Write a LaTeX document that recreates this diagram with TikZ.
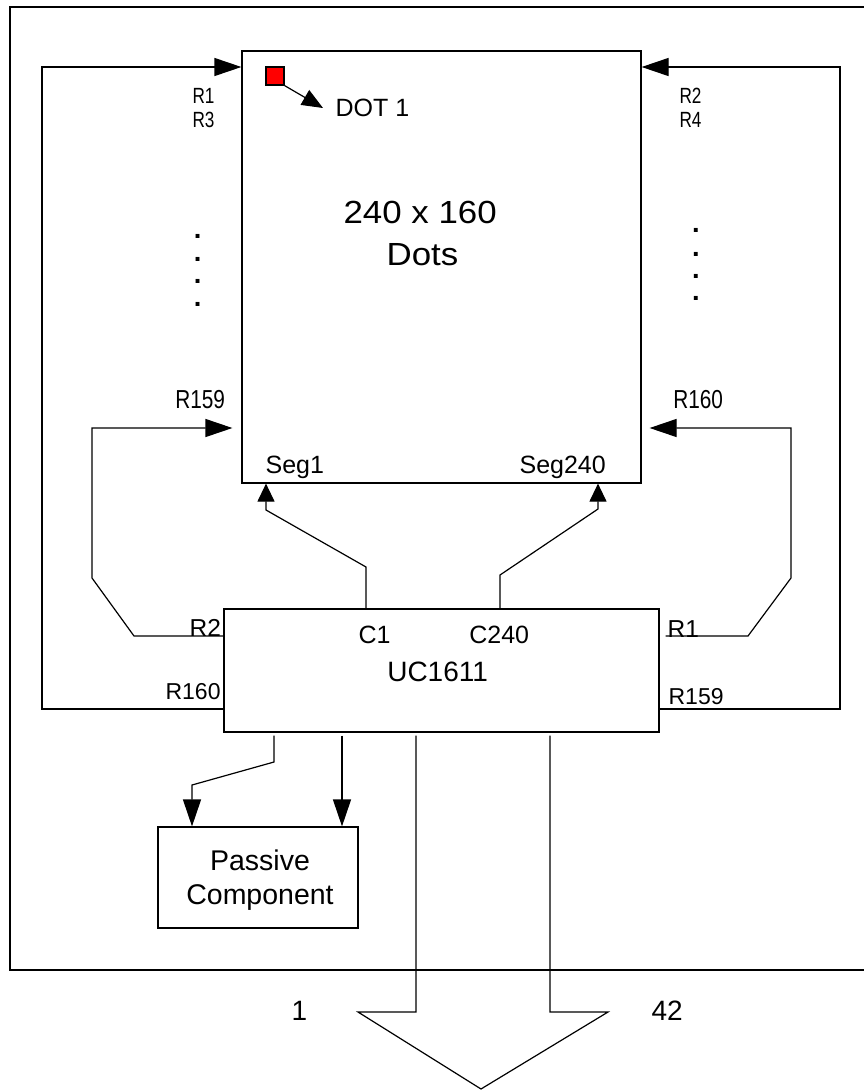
\documentclass[tikz,border=0pt]{standalone}
\usepackage{fontspec}
\usepackage{graphicx}
\setmainfont{Liberation Sans}
\usetikzlibrary{arrows.meta,calc}
\newcommand\myfs[1]{\fontsize{#1}{#1}\selectfont}
\newcommand\bigdot{\scalebox{1.95}{.}}
\begin{document}
\begin{tikzpicture}[x=1pt,y=-1pt,line width=1.2pt,
  box/.style={draw,inner sep=0pt,rectangle},
  lbl/.style={inner sep=0pt,anchor=base west},
  bigtip/.style={-{Triangle[length=27pt,width=18pt]}},
  segtip/.style={-{Triangle[length=18pt,width=17pt]}},
  dottip/.style={-{Triangle[length=21pt,width=17pt]}},
  vdot/.style={inner sep=0pt,anchor=base,font=\myfs{14}\bfseries}]
\useasboundingbox (0,0) rectangle (864,1090);

% outer frame (open on the right)
\draw (870,7) -- (10,7) -- (10,970) -- (870,970);

% main blocks
\node[box,minimum width=399pt,minimum height=432pt] (disp) at (441.5,267) {};
\node[box,minimum width=435pt,minimum height=123pt] (uc) at (441.5,670.5) {};
\node[box,minimum width=200pt,minimum height=101pt,align=center] (passive) at (258,877.5) {};
\node[box,fill=red,minimum width=18pt,minimum height=18pt] (dot) at (275,76) {};

% texts in display
\node[lbl,font=\myfs{32}] (t240) at (343,223) {\scalebox{1.09}[1]{240 x 160}};
\node[lbl,font=\myfs{32}] (tdots) at (386,265) {\scalebox{1.09}[1]{Dots}};
\node[lbl,font=\myfs{25}] (tdot1) at (335,116.5) {DOT 1};
\node[lbl,font=\myfs{25}] (tseg1) at (265,473) {Seg1};
\node[lbl,font=\myfs{25}] (tseg240) at (519,473) {Seg240};

% row labels near display
\node[lbl,font=\myfs{22}] (tr1) at (192,103.3) {\scalebox{0.78}[1]{R1}};
\node[lbl,font=\myfs{22}] (tr3) at (192,127.7) {\scalebox{0.78}[1]{R3}};
\node[lbl,font=\myfs{22}] (tr2) at (679,103.3) {\scalebox{0.78}[1]{R2}};
\node[lbl,font=\myfs{22}] (tr4) at (679,127.7) {\scalebox{0.78}[1]{R4}};
\node[lbl,font=\myfs{26}] (tr159a) at (174.7,408.3) {\scalebox{0.8}[1]{R159}};
\node[lbl,font=\myfs{26}] (tr160a) at (672.7,408.3) {\scalebox{0.8}[1]{R160}};

% vertical dots
\foreach \i/\y in {1/236.7,2/259.3,3/281.7,4/304}{
  \node[vdot] (dl\i) at (197.7,\y+2) {\bigdot};}
\foreach \i/\y in {1/230,2/254,3/276,4/298.7}{
  \node[vdot] (dr\i) at (696,\y+2) {\bigdot};}

% UC1611 texts
\node[lbl,font=\myfs{25}] (tc1) at (358,643) {C1};
\node[lbl,font=\myfs{25}] (tc240) at (468.7,643) {C240};
\node[lbl,font=\myfs{28}] (tuc) at (386.7,681.7) {UC1611};
\node[lbl,font=\myfs{24.5}] (tr2b) at (189,636) {R2};
\node[lbl,font=\myfs{24.5}] (tr1b) at (667,637) {R1};
\node[lbl,font=\myfs{23}] (tr160b) at (165,699) {R160};
\node[lbl,font=\myfs{23}] (tr159b) at (668,704) {R159};

% passive component text
\node[inner sep=0pt,anchor=base,font=\myfs{28.5}] (tpas) at (260,870) {Passive};
\node[inner sep=0pt,anchor=base,font=\myfs{28.5}] (tcomp) at (260,904) {Component};

% bus labels
\node[lbl,font=\myfs{28}] (tb1) at (291,1020) {1};
\node[lbl,font=\myfs{28}] (tb42) at (651,1020) {42};

% coordinates for bends
\coordinate (lo1) at (42,709);
\coordinate (lo2) at (42,67);
\coordinate (ro1) at (840,709);
\coordinate (ro2) at (840,67);
\coordinate (li1) at (134,636);
\coordinate (li2) at (92,578);
\coordinate (li3) at (92,428);
\coordinate (ri1) at (748,636);
\coordinate (ri2) at (791,578);
\coordinate (ri3) at (791,428);
\coordinate (s1a) at (366,567);
\coordinate (s1b) at (266,510);
\coordinate (s2a) at (500,575);
\coordinate (s2b) at (598,509);
\coordinate (pa1) at (274,762);
\coordinate (pa2) at (192,785);
\coordinate (pb) at (342,762);
\coordinate (b1) at (416,1012);
\coordinate (b2) at (358,1012);
\coordinate (b3) at (481,1089);
\coordinate (b4) at (608,1012);
\coordinate (b5) at (550,1012);
\coordinate (dotend) at (323,108);

% outer row loops
\draw[bigtip] (uc.west |- lo1) -- (lo1) -- (lo2) -- (disp.west |- lo2);
\draw[bigtip] (uc.east |- ro1) -- (ro1) -- (ro2) -- (disp.east |- ro2);

% inner row loops
\draw[bigtip,shorten >=9pt] (uc.west |- li1) -- (li1) -- (li2) -- (li3) -- (disp.west |- li3);
\draw[bigtip,shorten <=6pt,shorten >=8pt] (uc.east |- ri1) -- (ri1) -- (ri2) -- (ri3) -- (disp.east |- ri3);

% segment connections
\draw[segtip] (uc.north -| s1a) -- (s1a) -- (s1b) -- (disp.south -| s1b);
\draw[segtip] (uc.north -| s2a) -- (s2a) -- (s2b) -- (disp.south -| s2b);

% passive component connections
\draw[bigtip,shorten <=3pt] (uc.south -| pa1) -- (pa1) -- (pa2) -- (passive.north -| pa2);
\draw[bigtip,shorten <=3pt] (uc.south -| pb) -- (passive.north -| pb);

% output bus arrow
\draw[shorten <=3pt,shorten >=3pt] (uc.south -| b1) -- (b1) -- (b2) -- (b3) -- (b4) -- (b5) -- (uc.south -| b5);

% dot pointer
\draw[dottip] (dot.south east) -- (dotend);
\end{tikzpicture}
\end{document}
